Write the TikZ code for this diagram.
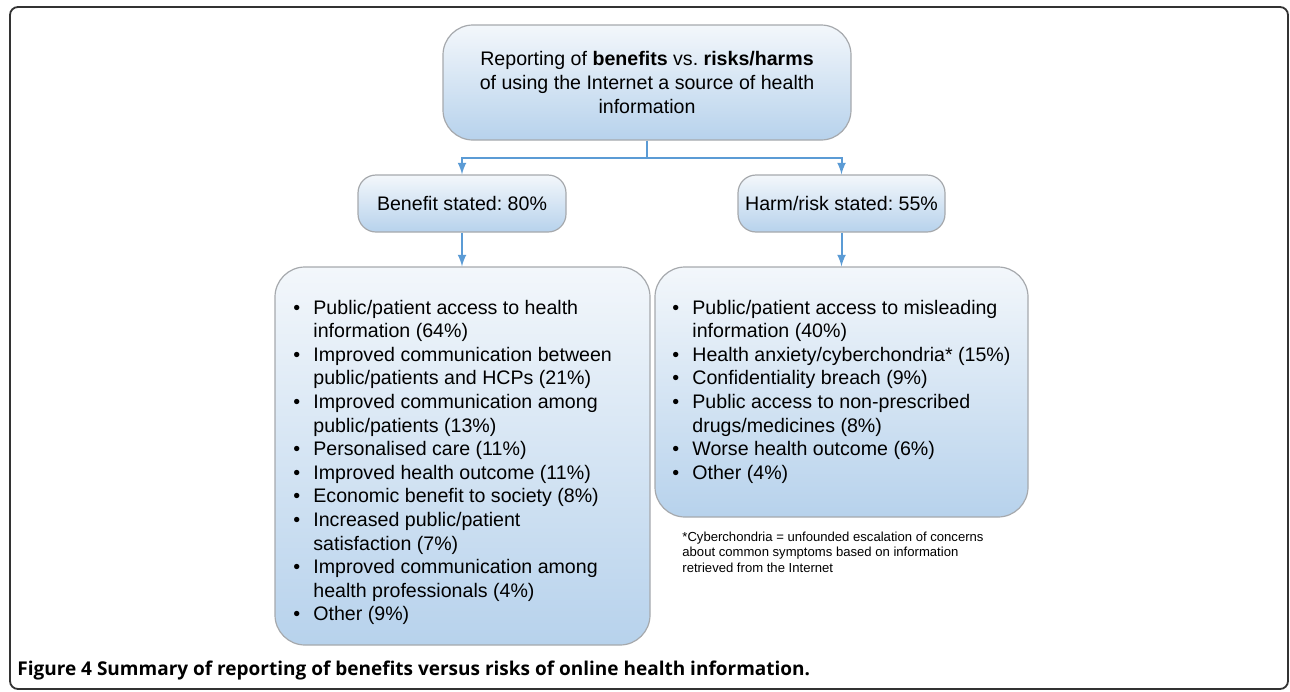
\documentclass[tikz,border=0pt]{standalone}
\usepackage{fontspec}
\setmainfont{Liberation Sans}
\newfontfamily\capfont{Open Sans}
\usetikzlibrary{calc}
\frenchspacing
\definecolor{boxtop}{HTML}{F3F7FB}
\definecolor{boxbot}{HTML}{B7D2EC}
\definecolor{boxline}{HTML}{A6A9AD}
\definecolor{linkblue}{HTML}{5B9BD5}
\tikzset{
  flowbox/.style={draw=boxline, line width=0.6pt, top color=boxtop, bottom color=boxbot, inner sep=0pt},
  link/.style={-latex, draw=linkblue, line width=1pt},
  bodytext/.style={font=\fontsize{9.8pt}{11.8pt}\selectfont, inner sep=0pt},
}
\newcommand{\bul}{\makebox[10pt][l]{\textbullet}}

\begin{document}
\begin{tikzpicture}[x=0.5pt,y=-0.5pt]
    \useasboundingbox (0,0) rectangle (1290,691);
    \draw[rounded corners=4pt, line width=0.9pt, black!80] (10,7) rectangle (1288,689); % frame
    % boxes
    \node[flowbox, bodytext, rounded corners=15pt, minimum width=204pt, minimum height=57.5pt, align=center] (query) at (647,82.5)
        {Reporting of \textbf{benefits} vs. \textbf{risks/harms}\\ of using the Internet a source of health\\ information};
    \node[flowbox, bodytext, rounded corners=9pt, minimum width=104pt, minimum height=28.5pt] (benefit) at (462,203.5) {Benefit stated: 80\%};
    \node[flowbox, bodytext, rounded corners=9pt, minimum width=103.5pt, minimum height=28.5pt] (harm) at (841.5,203.5) {Harm/risk stated: 55\%};
    \node[flowbox, rounded corners=15pt, minimum width=187.5pt, minimum height=189pt] (benbox) at (462.5,456) {};
    \node[flowbox, rounded corners=15pt, minimum width=186.5pt, minimum height=125pt] (harmbox) at (841.5,392) {};
    % connectors
    \draw[link] (query.south) -- ++(0,17) -| (benefit.north);
    \draw[link] (query.south) -- ++(0,17) -| (harm.north);
    \draw[link] (benefit.south) -- (benefit.south |- benbox.north);
    \draw[link] (harm.south) -- (harm.south |- harmbox.north);
    % lists
    \node[bodytext, anchor=base west] (benlist) at (293,314) {\begin{tabular}[t]{@{}l@{}l@{}}
        \bul & Public/patient access to health\\
             & information (64\%)\\
        \bul & Improved communication between\\
             & public/patients and HCPs (21\%)\\
        \bul & Improved communication among\\
             & public/patients (13\%)\\
        \bul & Personalised care (11\%)\\
        \bul & Improved health outcome (11\%)\\
        \bul & Economic benefit to society (8\%)\\
        \bul & Increased public/patient\\
             & satisfaction (7\%)\\
        \bul & Improved communication among\\
             & health professionals (4\%)\\
        \bul & Other (9\%)
    \end{tabular}};
    \node[bodytext, anchor=base west] (harmlist) at (672,314) {\begin{tabular}[t]{@{}l@{}l@{}}
        \bul & Public/patient access to misleading\\
             & information (40\%)\\
        \bul & Health anxiety/cyberchondria* (15\%)\\
        \bul & Confidentiality breach (9\%)\\
        \bul & Public access to non-prescribed\\
             & drugs/medicines (8\%)\\
        \bul & Worse health outcome (6\%)\\
        \bul & Other (4\%)
    \end{tabular}};
    \node[inner sep=0pt, anchor=base west, font=\fontsize{6.55pt}{7.75pt}\selectfont] (note) at (682,541) {\begin{tabular}[t]{@{}l@{}}
        *Cyberchondria = unfounded escalation of concerns\\
        about common symptoms based on information\\
        retrieved from the Internet
    \end{tabular}};
    \node[inner sep=0pt, anchor=base west, font=\capfont\bfseries\fontsize{9.5pt}{11pt}\selectfont] (caption) at (17,675)
        {Figure 4 Summary of reporting of benefits versus risks of online health information.};
\end{tikzpicture}
\end{document}
